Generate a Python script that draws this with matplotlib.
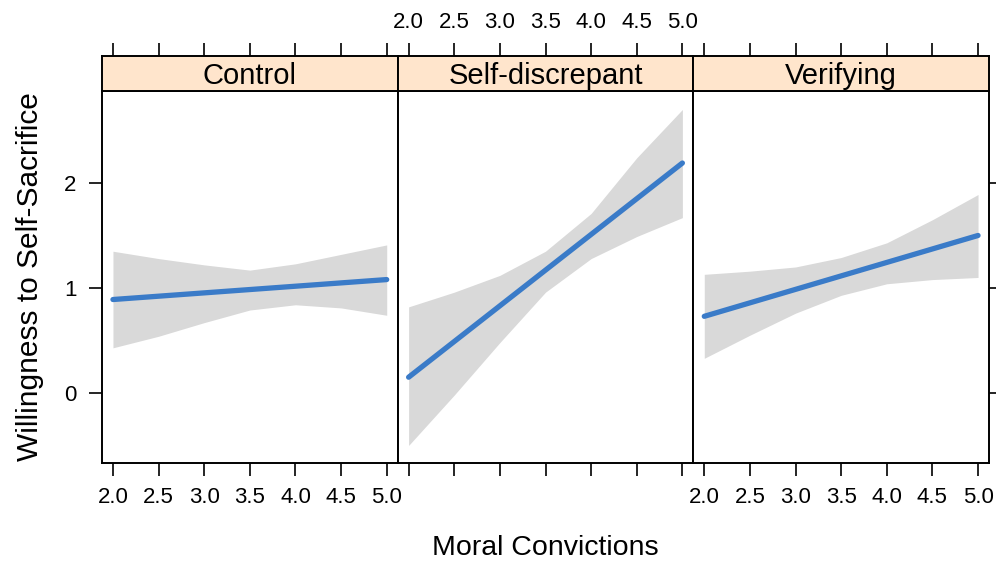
import matplotlib.pyplot as plt

plt.rcParams['font.family'] = ['Liberation Sans', 'DejaVu Sans']

panels = ["Control", "Self-discrepant", "Verifying"]
x_ticks = [2.0, 2.5, 3.0, 3.5, 4.0, 4.5, 5.0]
y_ticks = [0, 1, 2]

band_x = [2.0, 2.5, 3.0, 3.5, 4.0, 4.5, 5.0]

# fitted line, ends only (it is straight)
fit_x = [2.0, 5.0]
control_fit = [0.89, 1.08]
selfdisc_fit = [0.15, 2.19]
verify_fit = [0.73, 1.50]

control_upper = [1.35, 1.28, 1.22, 1.17, 1.23, 1.32, 1.41]
control_lower = [0.43, 0.54, 0.67, 0.79, 0.84, 0.81, 0.74]

selfdisc_upper = [0.82, 0.96, 1.12, 1.35, 1.71, 2.24, 2.70]
selfdisc_lower = [-0.50, -0.02, 0.48, 0.96, 1.28, 1.49, 1.67]

verify_upper = [1.13, 1.16, 1.20, 1.29, 1.43, 1.65, 1.89]
verify_lower = [0.33, 0.55, 0.76, 0.93, 1.04, 1.08, 1.10]

fits = [control_fit, selfdisc_fit, verify_fit]
uppers = [control_upper, selfdisc_upper, verify_upper]
lowers = [control_lower, selfdisc_lower, verify_lower]

W, H = 996, 561
fig = plt.figure(figsize=(W / 100, H / 100), dpi=100)

x0, x1 = 102, 989
top, bot = 91, 463
strip_top = 56
pw = (x1 - x0) / 3

line_col = '#3a7bc8'
band_col = '#d9d9d9'
strip_col = '#ffe5cc'
lw_frame = 1.4
tick_kw = dict(length=9.5, width=1.2, labelsize=16, color='black', direction='out')

xlim = (1.88, 5.12)
ylim = (-0.667, 2.876)

for i, name in enumerate(panels):
    left = (x0 + i * pw) / W
    ax = fig.add_axes([left, 1 - bot / H, pw / W, (bot - top) / H])
    ax.fill_between(band_x, lowers[i], uppers[i], color=band_col, lw=0)
    ax.plot(fit_x, fits[i], color=line_col, lw=3.8, solid_capstyle='round')
    ax.set_xlim(*xlim)
    ax.set_ylim(*ylim)
    for s in ax.spines.values():
        s.set_linewidth(lw_frame)

    ax.set_xticks(x_ticks)
    ax.tick_params(axis='x', bottom=True, top=False, pad=8, **tick_kw)
    if i == 1:
        ax.set_xticklabels([])
    else:
        ax.set_xticklabels([f"{v:.1f}" for v in x_ticks])

    ax.set_yticks(y_ticks)
    if i == 0:
        ax.tick_params(axis='y', left=True, right=False, labelleft=True, pad=9, **tick_kw)
    elif i == 2:
        ax.tick_params(axis='y', left=False, right=True, labelleft=False, labelright=False, **tick_kw)
    else:
        ax.tick_params(axis='y', left=False, right=False, labelleft=False)

    # strip on top of each panel
    sx = fig.add_axes([left, 1 - top / H, pw / W, (top - strip_top) / H])
    sx.set_facecolor(strip_col)
    sx.set_xlim(*xlim)
    sx.set_ylim(0, 1)
    sx.set_yticks([])
    sx.set_xticks(x_ticks)
    sx.xaxis.set_ticks_position('top')
    sx.tick_params(axis='x', top=True, bottom=False, labelbottom=False,
                   labeltop=(i == 1), pad=7, **tick_kw)
    if i == 1:
        sx.set_xticklabels([f"{v:.1f}" for v in x_ticks])
    for s in sx.spines.values():
        s.set_linewidth(lw_frame)
    sx.text(0.5, 0.42, name, transform=sx.transAxes, ha='center', va='center',
            fontsize=21)

fig.text((x0 + x1) / 2 / W, 1 - 548 / H, "Moral Convictions",
         ha='center', va='center', fontsize=20.5)
fig.text(30 / W, 1 - (top + bot) / 2 / H, "Willingness to Self-Sacrifice",
         ha='center', va='center', rotation=90, fontsize=21.5)

fig.savefig("out.png", dpi=100)
